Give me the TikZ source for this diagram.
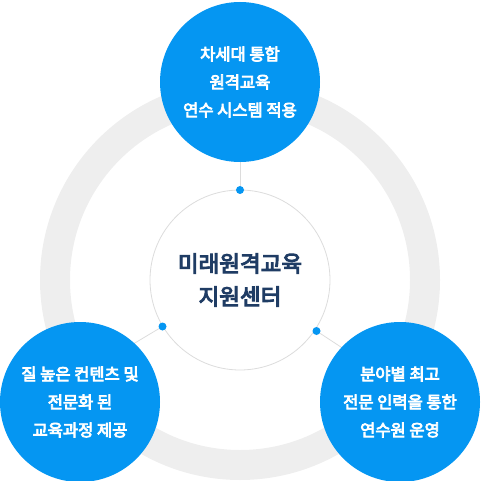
\documentclass[tikz,border=0pt]{standalone}
\usepackage{fontspec}
\newfontfamily\krfont{Noto Sans CJK KR}[FakeBold=4.5]
\definecolor{skyblue}{HTML}{0596F2}
\definecolor{ringgray}{HTML}{EEEEEE}
\definecolor{navytext}{HTML}{1F3C64}
\definecolor{rimgray}{HTML}{DCDCDC}
\tikzset{
  bluebubble/.style={circle,fill=skyblue,minimum size=160pt,inner sep=0pt,
    text=white,align=center,font=\krfont\fontsize{16.5}{28}\selectfont},
  hubdot/.style={circle,fill=skyblue,minimum size=8pt,inner sep=0pt},
  spoke/.style={draw=rimgray,line width=0.8pt}
}
\begin{document}
\begin{tikzpicture}[x=1pt,y=-1pt]
\useasboundingbox (0,0) rectangle (480,481);
\clip (0,0) rectangle (480,481);

% ring
\draw[ringgray,line width=30pt] (240,280) circle (185);

% centre
\node[circle,draw=rimgray,fill=white,line width=0.8pt,minimum size=180pt,
  text=navytext,align=center,font=\krfont\fontsize{22.5}{33}\selectfont]
  (hub) at (240,280) {미래원격교육\\지원센터};

% dots on the rim
\node[hubdot] (dtop) at (240,190) {};
\node[hubdot] (dleft) at (162.5,326.5) {};
\node[hubdot] (dright) at (316.5,331) {};

% spokes run outward, under the bubbles
\coordinate (etop) at (240,82);
\coordinate (eleft) at (131.5,345);
\coordinate (eright) at (347,351);
\draw[spoke] (dtop) -- (etop);
\draw[spoke] (dleft) -- (eleft);
\draw[spoke] (dright) -- (eright);

% bubbles
\node[bluebubble] (btop) at (240,82) {차세대 통합\\원격교육\\연수 시스템 적용};
\node[bluebubble] (bleft) at (80,402) {질 높은 컨텐츠 및\\전문화 된\\교육과정 제공};
\node[bluebubble] (bright) at (400,402) {분야별 최고\\전문 인력을 통한\\연수원 운영};
\end{tikzpicture}
\end{document}
